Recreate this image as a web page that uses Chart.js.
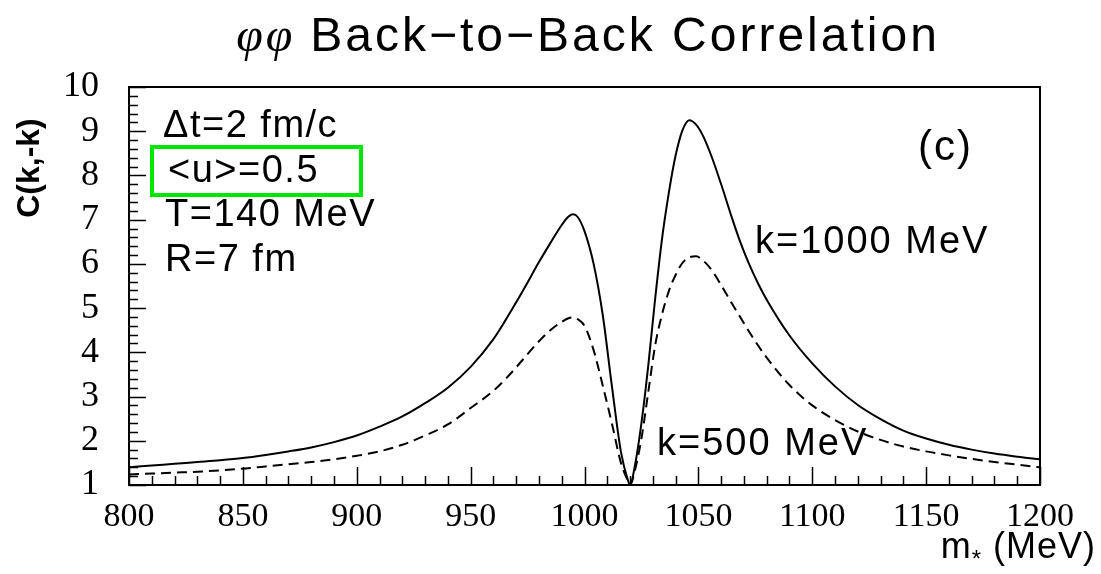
<!DOCTYPE html>
<html>
<head>
<meta charset="utf-8">
<script src="https://cdn.jsdelivr.net/npm/chart.js@4.4.1/dist/chart.umd.min.js"></script>
<style>
  html, body { margin: 0; padding: 0; background: #fff; }
  #wrap { width: 1101px; height: 574px; }
</style>
</head>
<body>
<div id="wrap"><canvas id="grafico" width="1101" height="574"></canvas></div>
<script>
// m* (MeV) grid shared by both curves
const massGrid = [800, 810, 820, 830, 840, 850, 860, 870, 880, 890, 900, 910, 920, 930, 940, 950,
  960, 965, 970, 975, 980, 985, 990, 993, 995, 997, 1000, 1004, 1008, 1012, 1016, 1019, 1020, 1022,
  1025, 1028, 1031, 1034, 1037, 1040, 1043, 1046, 1049, 1052, 1056, 1060, 1065, 1068, 1072, 1076, 1080,
  1090, 1100, 1110, 1120, 1130, 1140, 1150, 1160, 1170, 1180, 1190, 1200];

// C(k,-k) for k = 1000 MeV (solid)
const corrK1000 = [1.40, 1.44, 1.48, 1.52, 1.56, 1.61, 1.68, 1.76, 1.85, 1.97, 2.12, 2.32, 2.55, 2.85, 3.20, 3.67,
  4.30, 4.70, 5.13, 5.58, 6.04, 6.47, 6.88, 7.07, 7.12, 7.06, 6.74, 6.00, 4.85, 3.25, 1.75, 1.12, 1.00, 1.40,
  2.40, 3.70, 5.20, 6.55, 7.60, 8.45, 9.02, 9.25, 9.15, 8.90, 8.40, 7.80, 7.00, 6.55, 6.03, 5.58, 5.19,
  4.38, 3.75, 3.23, 2.81, 2.49, 2.23, 2.05, 1.91, 1.80, 1.71, 1.64, 1.58];

// C(k,-k) for k = 500 MeV (dashed)
const corrK500 = [1.24, 1.26, 1.28, 1.30, 1.33, 1.37, 1.42, 1.47, 1.52, 1.58, 1.66, 1.76, 1.91, 2.12, 2.37, 2.74,
  3.13, 3.38, 3.66, 3.96, 4.25, 4.50, 4.69, 4.77, 4.79, 4.75, 4.60, 4.05, 3.25, 2.40, 1.50, 1.10, 1.00, 1.30,
  2.05, 3.10, 4.15, 4.85, 5.38, 5.75, 6.02, 6.15, 6.17, 6.08, 5.85, 5.52, 5.08, 4.83, 4.49, 4.17, 3.88,
  3.26, 2.80, 2.47, 2.21, 2.02, 1.87, 1.76, 1.67, 1.59, 1.52, 1.46, 1.40];

const xTicks = [800, 850, 900, 950, 1000, 1050, 1100, 1150, 1200];
const yTicks = [1, 2, 3, 4, 5, 6, 7, 8, 9, 10];

const SANS = '"Liberation Sans", Arial, sans-serif';
const SERIF = '"Liberation Serif", "Times New Roman", serif';

// frame, inner ticks and all the ROOT-style labels
const moldura = {
  id: 'moldura',
  afterDraw(chart) {
    const { ctx, chartArea: a, scales: { x, y } } = chart;
    ctx.save();
    ctx.strokeStyle = '#000';
    ctx.lineWidth = 2;
    ctx.strokeRect(a.left, a.top, a.right - a.left, a.bottom - a.top);

    ctx.lineWidth = 1.5;
    ctx.beginPath();
    for (let v = yTicks[0]; v <= yTicks[yTicks.length - 1] + 1e-6; v += 0.2) {
      const py = Math.round(y.getPixelForValue(v)) + 0.5;
      const major = Math.abs(v - Math.round(v)) < 1e-6;
      ctx.moveTo(a.left, py);
      ctx.lineTo(a.left + (major ? 17 : 9), py);
    }
    for (let v = xTicks[0]; v <= xTicks[xTicks.length - 1]; v += 10) {
      const px = Math.round(x.getPixelForValue(v)) + 0.5;
      const major = v % 50 === 0;
      ctx.moveTo(px, a.bottom);
      ctx.lineTo(px, a.bottom - (major ? 18 : 9));
    }
    ctx.stroke();

    ctx.fillStyle = '#000';
    ctx.textBaseline = 'middle';

    // title
    ctx.letterSpacing = '3px';
    const phi = 'φφ ';
    const resto = 'Back−to−Back Correlation';
    ctx.font = '48px ' + SANS;
    const wResto = ctx.measureText(resto).width;
    ctx.font = 'italic 48px ' + SERIF;
    const wPhi = ctx.measureText(phi).width;
    const tx = 588 - (wPhi + wResto) / 2;
    ctx.textAlign = 'left';
    ctx.fillText(phi, tx, 38);
    ctx.font = '48px ' + SANS;
    ctx.fillText(resto, tx + wPhi, 38);

    // parameter block
    ctx.letterSpacing = '1.5px';
    ctx.font = '38px ' + SANS;
    ctx.fillText('Δt=2 fm/c', 163, 127);
    ctx.fillText('<u>=0.5', 168, 172);
    ctx.fillText('T=140 MeV', 165, 216);
    ctx.fillText('R=7 fm', 165, 261);

    ctx.strokeStyle = 'rgb(0,230,0)';
    ctx.lineWidth = 4;
    ctx.strokeRect(152, 147, 209, 48);

    ctx.letterSpacing = '2px';
    ctx.fillText('k=1000 MeV', 755, 243);
    ctx.fillText('k=500 MeV', 657, 445);
    ctx.font = '42px ' + SANS;
    ctx.fillText('(c)', 918, 148);

    // x title: m* (MeV)
    ctx.letterSpacing = '1px';
    ctx.font = '36px ' + SANS;
    ctx.textAlign = 'right';
    ctx.fillText(' (MeV)', 1096, 548);
    const wMev = ctx.measureText(' (MeV)').width;
    ctx.font = '24px ' + SANS;
    ctx.fillText('*', 1096 - wMev, 560);
    const wStar = ctx.measureText('*').width;
    ctx.font = '36px ' + SANS;
    ctx.fillText('m', 1096 - wMev - wStar, 548);

    // y title
    ctx.letterSpacing = '0px';
    ctx.translate(30, 168);
    ctx.rotate(-Math.PI / 2);
    ctx.textAlign = 'center';
    ctx.font = 'bold 32px ' + SANS;
    ctx.fillText('C(k,-k)', 0, 0);
    ctx.restore();
  }
};

const ctxCorr = document.getElementById('grafico').getContext('2d');

new Chart(ctxCorr, {
  type: 'line',
  data: {
    datasets: [{
      label: 'k=1000 MeV',
      data: massGrid.map((m, i) => ({ x: m, y: corrK1000[i] })),
      borderColor: '#000',
      borderWidth: 2,
      pointRadius: 0,
      cubicInterpolationMode: 'monotone',
      fill: false
    }, {
      label: 'k=500 MeV',
      data: massGrid.map((m, i) => ({ x: m, y: corrK500[i] })),
      borderColor: '#000',
      borderWidth: 2,
      borderDash: [10, 6],
      pointRadius: 0,
      cubicInterpolationMode: 'monotone',
      fill: false
    }]
  },
  options: {
    responsive: false,
    animation: false,
    layout: { padding: { top: 87, right: 61, left: 0, bottom: 0 } },
    plugins: {
      legend: { display: false },
      tooltip: { enabled: false }
    },
    scales: {
      x: {
        type: 'linear',
        min: 800,
        max: 1200,
        afterBuildTicks: s => { s.ticks = xTicks.map(v => ({ value: v })); },
        afterFit: s => { s.height = 89; },
        grid: { display: false },
        border: { display: false },
        ticks: {
          color: '#000', padding: 4, maxRotation: 0, autoSkip: false,
          callback: v => String(v),
          font: { family: SERIF, size: 34 }
        }
      },
      y: {
        min: 1,
        max: 10,
        afterBuildTicks: s => { s.ticks = yTicks.map(v => ({ value: v })); },
        afterFit: s => { s.width = 129; },
        grid: { display: false },
        border: { display: false },
        ticks: {
          color: '#000', padding: 22, autoSkip: false,
          callback: v => String(v),
          font: { family: SERIF, size: 36 }
        }
      }
    }
  },
  plugins: [moldura]
});
</script>
</body>
</html>
